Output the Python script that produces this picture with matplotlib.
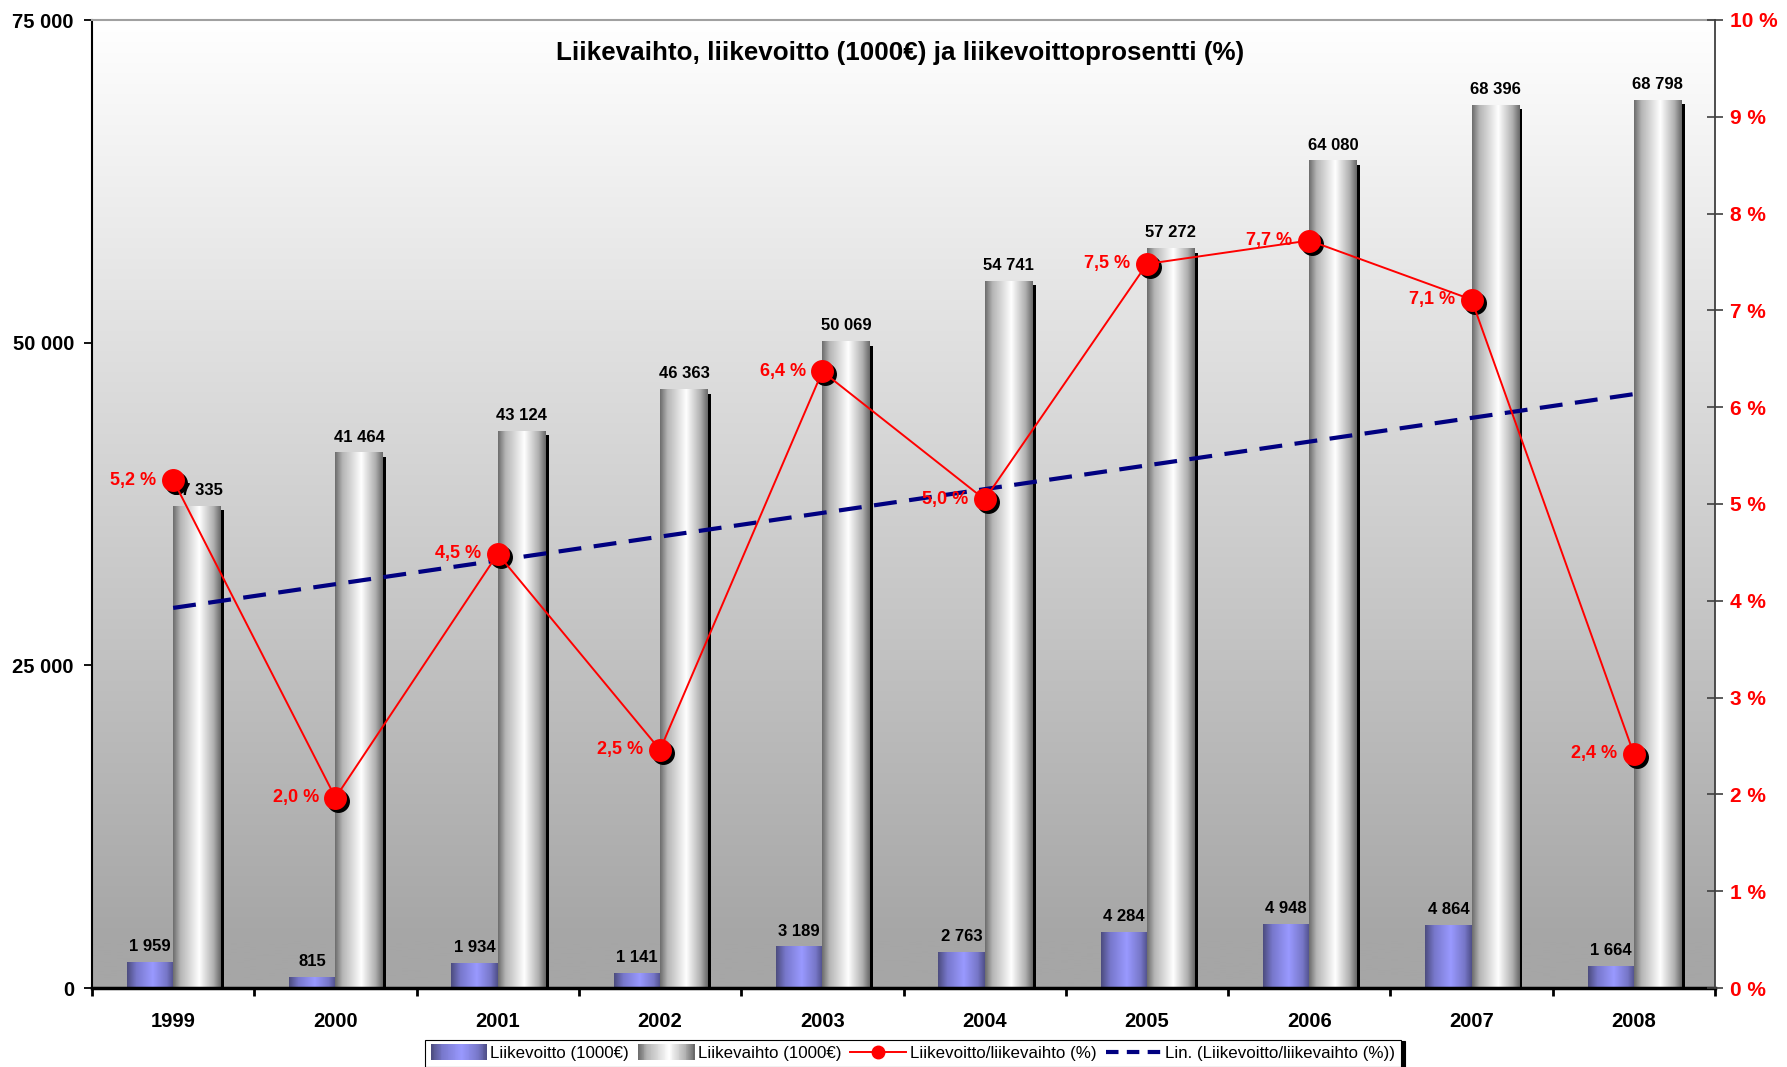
import numpy as np
import matplotlib
matplotlib.use("Agg")
import matplotlib.pyplot as plt
from matplotlib.patches import Rectangle
from matplotlib.lines import Line2D
from matplotlib.legend_handler import HandlerBase
import matplotlib.transforms as mtransforms

plt.rcParams['font.family'] = ['Liberation Sans', 'DejaVu Sans']

# ---------------- data ----------------
years = ['1999', '2000', '2001', '2002', '2003', '2004', '2005', '2006', '2007', '2008']
liikevoitto = [1959, 815, 1934, 1141, 3189, 2763, 4284, 4948, 4864, 1664]
liikevaihto = [37335, 41464, 43124, 46363, 50069, 54741, 57272, 64080, 68396, 68798]
prosentti = [5.247, 1.966, 4.485, 2.461, 6.369, 5.047, 7.480, 7.722, 7.112, 2.419]
left_ticks = [0, 25000, 50000, 75000]
right_ticks = list(range(0, 11))

title = "Liikevaihto, liikevoitto (1000€) ja liikevoittoprosentti (%)"
lbl_voitto = "Liikevoitto (1000€)"
lbl_vaihto = "Liikevaihto (1000€)"
lbl_pct = "Liikevoitto/liikevaihto (%)"
lbl_lin = "Lin. (Liikevoitto/liikevaihto (%))"


def fmt_thousands(v):
    return f"{int(v):,}".replace(",", " ")


# ------------- gradients ---------------
def profile(stops, cols, n=64):
    t = np.linspace(0, 1, n)
    cols = np.array([matplotlib.colors.to_rgb(c) for c in cols])
    return np.stack([np.interp(t, stops, cols[:, k]) for k in range(3)], axis=1)

grey_grad = profile([0, 0.15, 0.55, 0.85, 1], ['#6e6e6e', '#b4b4b4', '#ffffff', '#b0b0b0', '#6a6a6a'])
blue_grad = profile([0, 0.2, 0.55, 0.85, 1], ['#4d4d80', '#7878cc', '#9999ff', '#7777c8', '#50508a'])

fig = plt.figure(figsize=(17.87, 10.67), dpi=100)
ax = fig.add_axes([92 / 1787, 79 / 1067, 1623 / 1787, 968 / 1067])
ax2 = ax.twinx()

x = np.arange(len(years))
w_blue = 0.285
w_grey = 0.295

# background gradient (vertical)
bg = profile([0, 0.05, 1], ['#a6a6a6', '#a6a6a6', '#ffffff'], n=256)[:, None, :]
ax.imshow(bg, extent=(0, 1, 0, 1), transform=ax.transAxes, aspect='auto',
          origin='lower', zorder=0, interpolation='bilinear')

# bars (invisible geometry, filled with gradient images)
bars_v = ax.bar(x - w_blue / 2, liikevoitto, width=w_blue, color='none', zorder=2)
bars_g = ax.bar(x + w_grey / 2, liikevaihto, width=w_grey, color='none', zorder=2)

# shadow of grey bars
shadow_tr = mtransforms.offset_copy(ax.transData, fig=fig, x=3, y=-4, units='dots')
ax.bar(x + w_grey / 2, liikevaihto, width=w_grey, color='black', zorder=1.5,
       transform=shadow_tr)

for b in bars_v:
    ax.imshow(blue_grad[None, :, :], extent=(b.get_x(), b.get_x() + b.get_width(), 0, b.get_height()),
              aspect='auto', zorder=2.2, interpolation='bilinear')
for b in bars_g:
    ax.imshow(grey_grad[None, :, :], extent=(b.get_x(), b.get_x() + b.get_width(), 0, b.get_height()),
              aspect='auto', zorder=2.2, interpolation='bilinear')

for b, v in zip(bars_v, liikevoitto):
    ax.annotate(fmt_thousands(v), (b.get_x() + b.get_width() / 2, b.get_height()),
                xytext=(0, 6), textcoords='offset points', ha='center', va='bottom',
                fontsize=12, fontweight='bold', color='black', zorder=5)
for b, v in zip(bars_g, liikevaihto):
    ax.annotate(fmt_thousands(v), (b.get_x() + b.get_width() / 2, b.get_height()),
                xytext=(0, 6), textcoords='offset points', ha='center', va='bottom',
                fontsize=12, fontweight='bold', color='black', zorder=5)

ax.set_xlim(-0.5, len(years) - 0.5)
ax.set_ylim(0, 75000)
ax.set_yticks(left_ticks)
ax.set_yticklabels([fmt_thousands(v) for v in left_ticks], fontsize=14.5, fontweight='bold')
ax.set_xticks(np.arange(-0.5, len(years), 1.0))
ax.set_xticklabels([])
ax.set_xticks(x, minor=True)
ax.set_xticklabels(years, minor=True, fontsize=14.5, fontweight='bold')
ax.tick_params(axis='x', which='major', direction='out', length=6, width=2, color='black')
ax.tick_params(axis='x', which='minor', length=0, pad=17)
ax.tick_params(axis='y', direction='out', length=6, width=1.3, pad=7)

ax.spines['top'].set_color('#a0a0a0')
ax.spines['top'].set_linewidth(1.5)
ax.spines['left'].set_color('black')
ax.spines['left'].set_linewidth(1.5)
ax.spines['bottom'].set_color('black')
ax.spines['bottom'].set_linewidth(2.5)
ax.spines['right'].set_visible(False)

# percentage line on secondary axis
ax2.set_ylim(0, 10)
ax2.set_yticks(right_ticks)
ax2.set_yticklabels([f"{t} %" for t in right_ticks], fontsize=15, fontweight='bold', color='#ff0000')
ax2.tick_params(axis='y', direction='inout', length=12, width=1.2, color='#404040', pad=5)
for s in ['top', 'left', 'bottom']:
    ax2.spines[s].set_visible(False)
ax2.spines['right'].set_color('#404040')
ax2.spines['right'].set_linewidth(1.3)

# trend line (linear fit of the percentages)
coef = np.polyfit(x, prosentti, 1)
trend = np.polyval(coef, x)
ax2.plot(x, trend, color='#000080', lw=3, dashes=(5.5, 3), zorder=3)

mshadow_tr = mtransforms.offset_copy(ax2.transData, fig=fig, x=3, y=-3, units='dots')
ax2.plot(x, prosentti, linestyle='none', marker='o', markersize=15.5, color='black',
         transform=mshadow_tr, zorder=4)
ax2.plot(x, prosentti, color='#ff0000', lw=1.4, marker='o', markersize=15.5,
         markerfacecolor='#ff0000', markeredgecolor='#ff0000', zorder=4.5)
for xi, p in zip(x, prosentti):
    ax2.annotate(f"{p:.1f} %".replace(".", ","), (xi, p), xytext=(-12, 0),
                 textcoords='offset points', ha='right', va='center',
                 fontsize=13, fontweight='bold', color='#ff0000', zorder=6)

fig.text(900 / 1787, 1 - 53 / 1067, title, ha='center', va='center',
         fontsize=18.7, fontweight='bold')


# ------------- legend -------------
class GradHandler(HandlerBase):
    def __init__(self, grad):
        super().__init__()
        self.grad = grad

    def create_artists(self, legend, orig_handle, xdescent, ydescent, width, height, fontsize, trans):
        n = len(self.grad)
        arts = []
        for i in range(n):
            r = Rectangle((-xdescent + width * i / n, -ydescent - 0.15 * height), width / n + 0.3,
                          height * 1.3, facecolor=self.grad[i], edgecolor='none', transform=trans)
            arts.append(r)
        return arts


h_v = Rectangle((0, 0), 1, 1)
h_g = Rectangle((0, 0), 1, 1)
h_p = Line2D([], [], color='#ff0000', lw=1.4, marker='o', markersize=9, markerfacecolor='#ff0000')
h_l = Line2D([], [], color='#000080', lw=3, dashes=(3, 2))
leg = fig.legend([h_v, h_g, h_p, h_l], [lbl_voitto, lbl_vaihto, lbl_pct, lbl_lin],
                 handler_map={h_v: GradHandler(blue_grad), h_g: GradHandler(grey_grad)},
                 loc='upper center', bbox_to_anchor=(913 / 1787, 1 - 1040 / 1067), ncol=4,
                 borderaxespad=0,
                 frameon=True, fancybox=False, edgecolor='black', framealpha=1,
                 prop={'family': ['Liberation Sans Narrow', 'Liberation Sans'], 'size': 12.2},
                 handlelength=3.3, handletextpad=0.2, columnspacing=0.55, borderpad=0.35,
                 shadow={'color': 'black', 'alpha': 1, 'ox': 3, 'oy': -1})
leg.get_frame().set_linewidth(0.8)

fig.savefig("out.png", dpi=100)
